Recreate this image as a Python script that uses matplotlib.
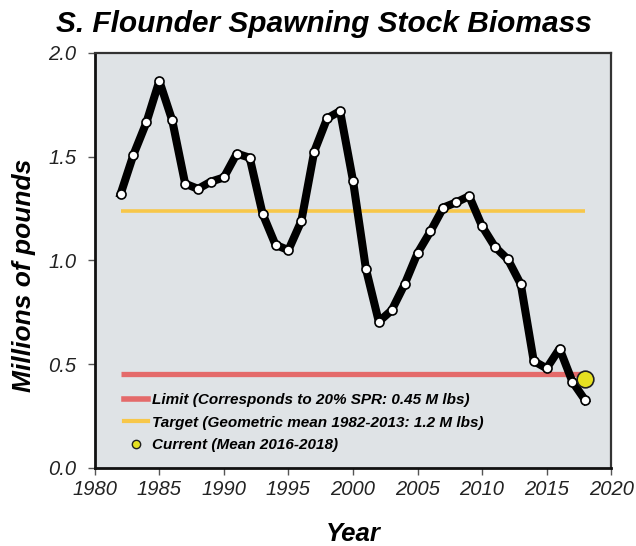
import matplotlib
matplotlib.use("Agg")
import matplotlib.pyplot as plt
from matplotlib.lines import Line2D

plt.rcParams['font.family'] = ['Liberation Sans', 'DejaVu Sans']

# Spawning stock biomass (millions of pounds)
years = list(range(1982, 2019))
ssb = [1.32, 1.51, 1.665, 1.865, 1.675, 1.37, 1.345, 1.38, 1.40, 1.515, 1.495,
       1.225, 1.075, 1.05, 1.19, 1.525, 1.685, 1.72, 1.385, 0.96, 0.705, 0.76,
       0.885, 1.035, 1.14, 1.255, 1.28, 1.31, 1.165, 1.065, 1.005, 0.885,
       0.515, 0.48, 0.575, 0.415, 0.325]

limit_value = 0.455
target_value = 1.24
ref_years = [1982, 2018]
current_year = 2018
current_value = 0.43

legend_labels = ['Limit (Corresponds to 20% SPR: 0.45 M lbs)',
                 'Target (Geometric mean 1982-2013: 1.2 M lbs)',
                 'Current (Mean 2016-2018)']

red = '#e46a6a'
gold = '#f7c74a'
yellow = '#e6e020'

fig = plt.figure(figsize=(6.36, 5.46), dpi=100)
ax = fig.add_axes([0.149, 0.143, 0.812, 0.760])
ax.set_facecolor('#dfe3e6')

ax.hlines(limit_value, ref_years[0], ref_years[1], color=red, lw=3.8, zorder=2)
ax.hlines(target_value, ref_years[0], ref_years[1], color=gold, lw=2.6, zorder=2)

ax.plot(years, ssb, color='black', lw=5.8, solid_joinstyle='round',
        marker='o', markersize=6.5, markerfacecolor='white',
        markeredgecolor='black', markeredgewidth=1.2, zorder=3)
ax.plot([current_year], [current_value], 'o', markersize=12,
        markerfacecolor=yellow, markeredgecolor='#202020',
        markeredgewidth=1.2, zorder=4)

ax.set_xlim(1980, 2020)
ax.set_ylim(0, 2.0)
ax.set_xticks(range(1980, 2021, 5))
ax.set_yticks([0.0, 0.5, 1.0, 1.5, 2.0])
ax.set_yticklabels(['0.0', '0.5', '1.0', '1.5', '2.0'])
for lab in ax.get_xticklabels() + ax.get_yticklabels():
    lab.set_fontstyle('italic')
    lab.set_fontsize(14.5)
    lab.set_color('#222222')
ax.tick_params(axis='both', direction='out', length=5, width=1, color='#555555')
ax.tick_params(axis='x', pad=4)
ax.tick_params(axis='y', pad=8)

for side in ['left', 'bottom']:
    ax.spines[side].set_linewidth(2)
    ax.spines[side].set_color('#111111')
for side in ['top', 'right']:
    ax.spines[side].set_linewidth(1.6)
    ax.spines[side].set_color('#333333')

ax.set_xlabel('Year', fontsize=18.5, fontweight='bold', fontstyle='italic', labelpad=16)
ax.set_ylabel('Millions of pounds', fontsize=19, fontweight='bold', fontstyle='italic')
ax.yaxis.set_label_coords(-0.114, 0.465)
fig.suptitle('S. Flounder Spawning Stock Biomass', x=0.51, y=0.982,
             fontsize=21.5, fontweight='bold', fontstyle='italic')

handles = [Line2D([], [], color=red, lw=4),
           Line2D([], [], color=gold, lw=3),
           Line2D([], [], ls='none', marker='o', markersize=6,
                  markerfacecolor=yellow, markeredgecolor='#202020')]
leg = ax.legend(handles, legend_labels, loc='lower left',
                bbox_to_anchor=(0.03, 0.005), frameon=False,
                prop={'weight': 'bold', 'style': 'italic', 'size': 11},
                handlelength=1.6, handletextpad=0.2, labelspacing=0.55)

fig.savefig('out.png', dpi=100)
